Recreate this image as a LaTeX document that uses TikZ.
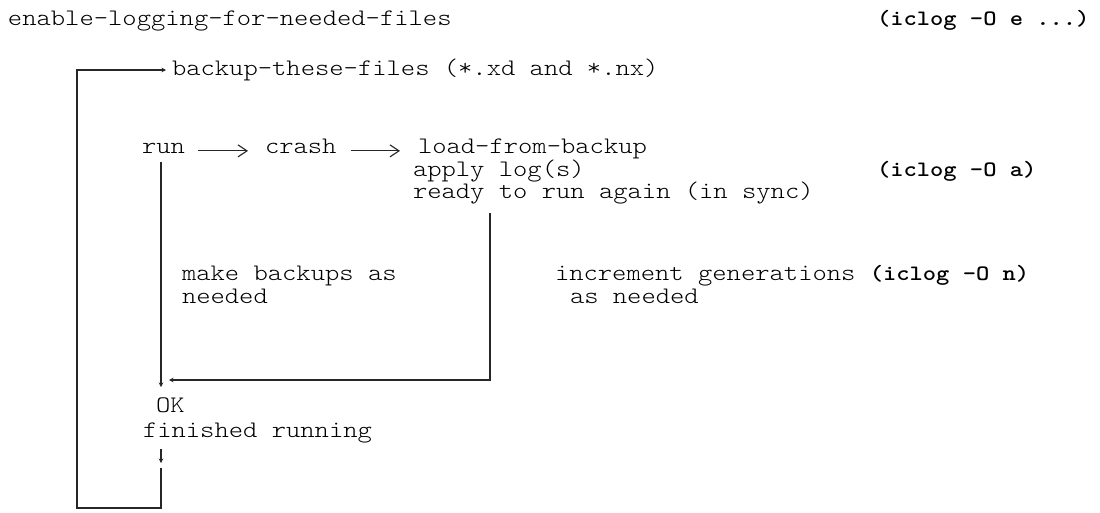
\documentclass[tikz,border=0pt]{standalone}
\usepackage{fontspec}
\setmainfont{lmmonolt10-regular}[Extension=.otf,FakeStretch=1.15,BoldFont=lmmonolt10-bold]
\usetikzlibrary{arrows.meta}
\begin{document}
\begin{tikzpicture}[x=1pt,y=-1pt,
  txt/.style={anchor=base west,inner sep=0pt,outer sep=0pt,font=\fontsize{23.7}{24}\selectfont},
  bld/.style={anchor=base west,inner sep=0pt,outer sep=0pt,font=\fontsize{22}{22}\selectfont\bfseries},
  wire/.style={line width=1.1pt,draw=black!85},
  chev/.style={wire,-{Straight Barb[length=9pt,width=12pt,line width=1.1pt]}},
  small/.style={wire,-{Stealth[length=4.5pt,width=4.5pt]}}]
\useasboundingbox (0,0) rectangle (1100,512);
\node[txt] (enable) at (8,25) {enable-logging-for-needed-files};
\node[bld] (icloge) at (877,25) {(iclog -O e ...)};
\node[txt] (backup) at (172,75) {backup-these-files (*.xd and *.nx)};
\node[txt] (run) at (142,153) {run};
\node[txt] (crash) at (265,153) {crash};
\node[txt] (load) at (418,153) {load-from-backup};
\node[txt] (apply) at (413,176) {apply log(s)};
\node[bld] (icloga) at (877,176) {(iclog -O a)};
\node[txt] (ready) at (413,198) {ready to run again (in sync)};
\node[txt] (make) at (182,280) {make backups as};
\node[txt] (needa) at (182,303) {needed};
\node[txt] (incr) at (555,280) {increment generations {\fontsize{22}{22}\selectfont\bfseries(iclog -O n)}};
\node[txt] (needb) at (570,303) {as needed};
\node[txt] (ok) at (156,412) {OK};
\node[txt] (fin) at (143,437) {finished running};
\coordinate (runbot) at (161,162);
\coordinate (okin) at (161,387);
\coordinate (readybot) at (490,213);
\coordinate (corner) at (490,380);
\coordinate (okside) at (169,380);
\coordinate (finbot) at (161,449);
\coordinate (arrend) at (161,463);
\coordinate (loopstart) at (161,468);
\coordinate (bl) at (77,508);
\coordinate (tl) at (77,70);
\draw[chev] ([xshift=13pt]run.mid east) -- ([xshift=-17pt]crash.mid west);
\draw[chev] ([xshift=14pt]crash.mid east) -- ([xshift=-18pt]load.mid west);
\draw[small] (runbot) -- (okin);
\draw[small] (readybot) -- (corner) -- (okside);
\draw[small] (finbot) -- (arrend);
\draw[small] (loopstart) -- (loopstart |- bl) -- (bl) -- (tl) -- ([xshift=-6pt]tl -| backup.west);
\end{tikzpicture}
\end{document}
